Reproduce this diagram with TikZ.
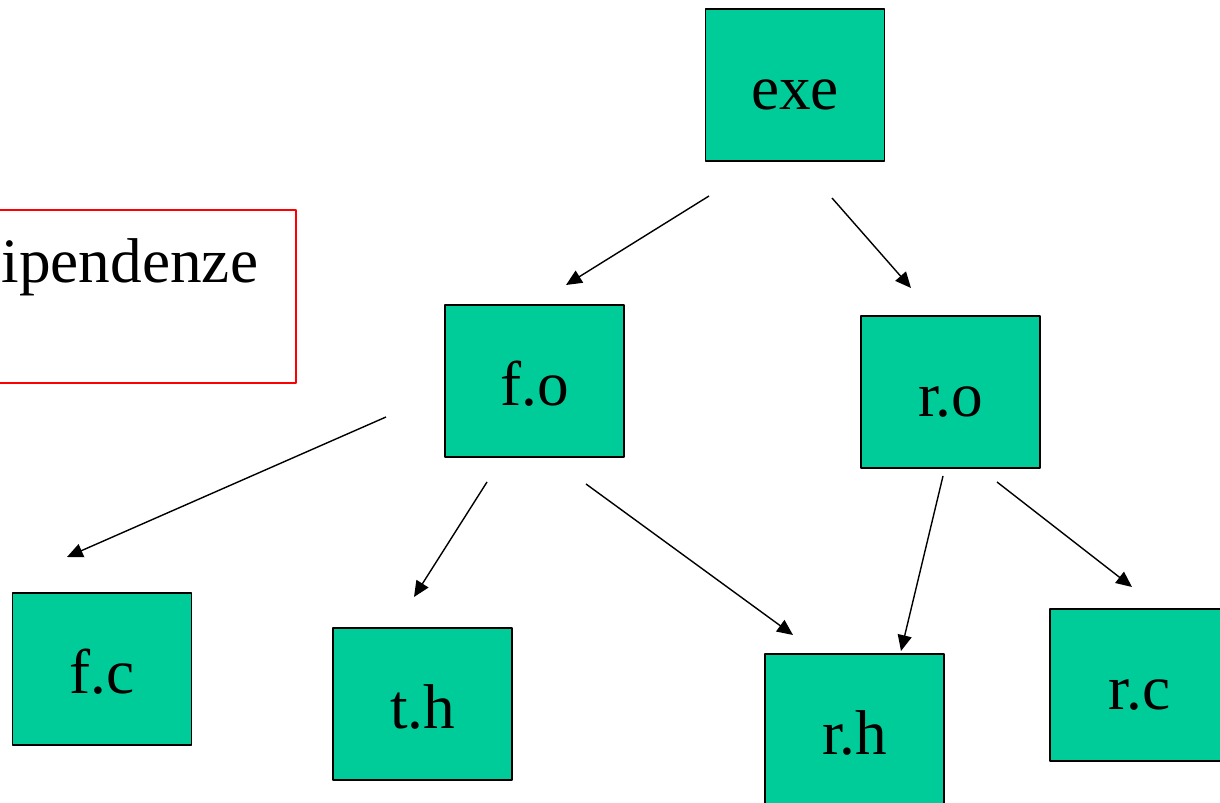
\documentclass[tikz,border=0pt]{standalone}
\usepackage{fontspec}
\setmainfont{Liberation Serif}
\usetikzlibrary{arrows.meta}
\definecolor{filegreen}{RGB}{0,204,153}
\begin{document}
\begin{tikzpicture}[x=0.02cm,y=-0.02cm,line join=round,line width=.8pt,font=\fontsize{36}{43}\selectfont,
	file/.style={draw,line width=.9pt,fill=filegreen,minimum width=3.58cm,minimum height=3.04cm,inner sep=0pt,text height=28pt,text depth=0pt},
	dep/.style={-{Triangle[length=9pt,width=8pt]}}]
	\useasboundingbox (0,0) rectangle (1220,803);
	\node[file] (exe) at (795,85) {exe};
	\node[file] (fo) at (534.5,381) {f.o};
	\node[file] (ro) at (950.5,392) {r.o};
	\node[file] (fc) at (102,669) {f.c};
	\node[file] (th) at (422.5,704) {t.h};
	\node[file] (rh) at (854.5,730) {r.h};
	\node[file] (rc) at (1139.5,685) {r.c};
	\node[draw=red,line width=.9pt,minimum width=6.32cm,minimum height=3.46cm,inner sep=0pt] (dip) at (138,296.5) {};
	\node[anchor=base west,inner sep=0pt] (diptxt) at (1,283) {ipendenze};
	\coordinate (exe1) at (709,196); \coordinate (fo1) at (566,285);
	\coordinate (exe2) at (832,198); \coordinate (ro1) at (911,288);
	\coordinate (fo2) at (386,417); \coordinate (fc1) at (67,557);
	\coordinate (fo3) at (487,482); \coordinate (th1) at (414,597);
	\coordinate (fo4) at (586,484); \coordinate (rh1) at (793,635);
	\coordinate (ro2) at (943,476); \coordinate (rh2) at (901,651);
	\coordinate (ro3) at (997,482); \coordinate (rc1) at (1132,587);
	\draw[dep] (exe1)--(fo1);
	\draw[dep] (exe2)--(ro1);
	\draw[dep] (fo2)--(fc1);
	\draw[dep] (fo3)--(th1);
	\draw[dep] (fo4)--(rh1);
	\draw[dep] (ro2)--(rh2);
	\draw[dep] (ro3)--(rc1);
\end{tikzpicture}
\end{document}
